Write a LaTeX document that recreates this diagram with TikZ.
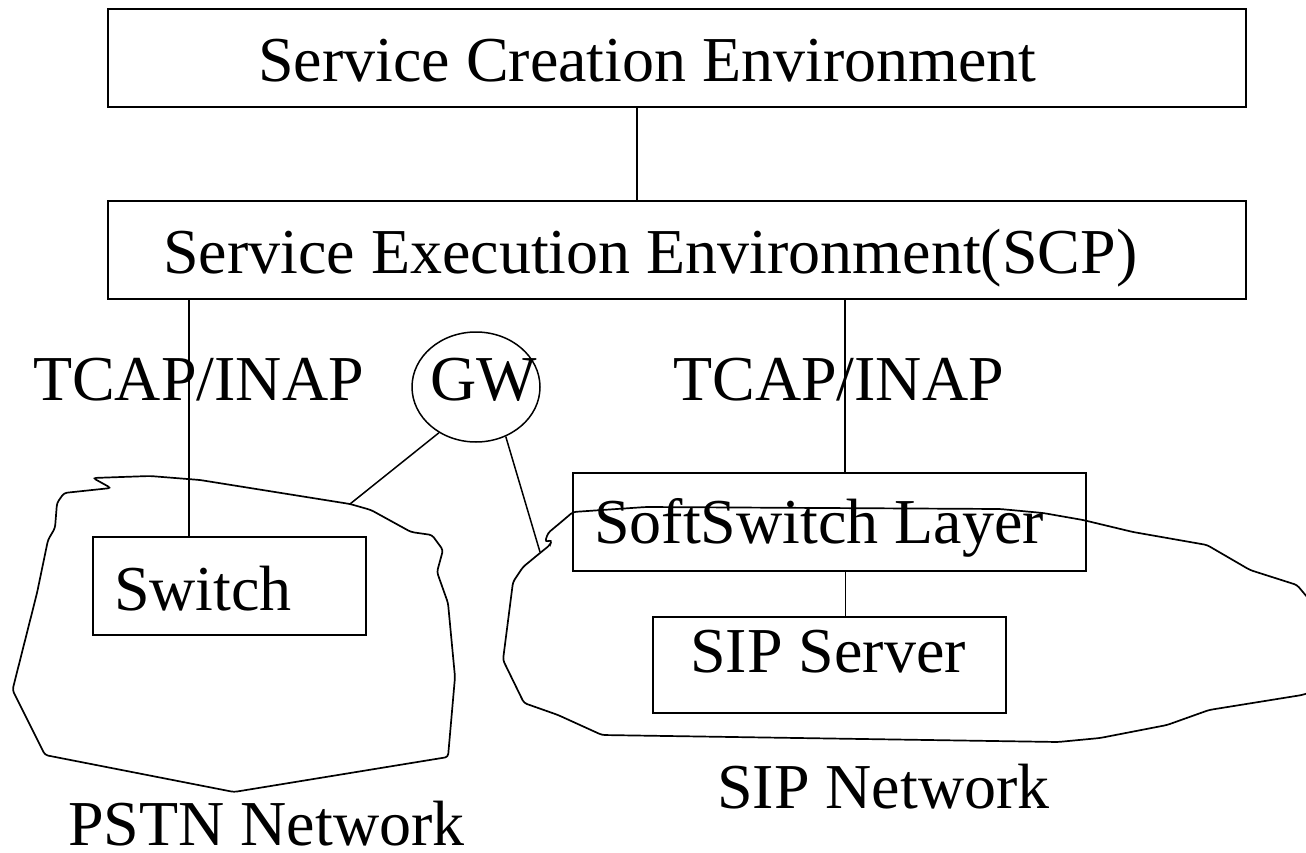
\documentclass[tikz,border=0pt]{standalone}
\usepackage{fontspec}
\setmainfont{Liberation Serif}
\usetikzlibrary{shapes.geometric}
\begin{document}
\begin{tikzpicture}[x=1pt,y=-1pt,
  boxnode/.style={draw, line width=1.7pt, rectangle, inner sep=0pt},
  lbl/.style={anchor=base west, inner sep=0pt, font=\fontsize{64}{70}\selectfont},
  link/.style={line width=1.5pt},
  cloudline/.style={line width=1.7pt, rounded corners=3pt}]
\useasboundingbox[fill=white] (0,0) rectangle (1306,853);

% clouds
\draw[cloudline] (150,476) -- (93,478) -- (111,488) -- (64,493) -- (57,503) -- (55,528)
  -- (48,540) -- (37,593) -- (12.5,690) -- (45,755) -- (234,792) -- (448,757)
  -- (455,677) -- (448,603) -- (437,572) -- (443,550) -- (432,535) -- (411,532)
  -- (371,510) -- (350,504) -- (200,480) -- cycle;
\coordinate (pstnhit) at (350,504);

\draw[cloudline] (573,512) -- (646,507) -- (1000,509) -- (1043,513) -- (1083,520)
  -- (1133,532) -- (1207,545) -- (1250,570) -- (1297,585) -- (1318,610)
  -- (1318,690) -- (1302,695) -- (1209,710) -- (1167,725) -- (1100,738)
  -- (1058,742) -- (602,735) -- (558,715) -- (524,703) -- (503,660) -- (513,582)
  -- (523,567) -- (540,553) -- (550,545) -- (552,540) -- (545,542) -- (548,533)
  -- (560,523) -- cycle;
\coordinate (siphit) at (540,552);

% boxes
\node[boxnode, minimum width=1138pt, minimum height=98pt] (sce) at (677,58) {};
\node[boxnode, minimum width=1138pt, minimum height=98pt] (see) at (677,250) {};
\node[boxnode, minimum width=273pt, minimum height=98pt] (sw) at (229.5,586) {};
\node[boxnode, minimum width=513pt, minimum height=98pt] (ss) at (829.5,522) {};
\node[boxnode, minimum width=353pt, minimum height=96pt] (sip) at (829.5,665) {};
\node[draw, ellipse, line width=1.5pt, inner sep=0pt, minimum width=128pt, minimum height=110pt] (gw) at (476,387) {};

% texts
\node[lbl] (sceT) at (258,82) {Service Creation Environment};
\node[lbl] (seeT) at (163,273) {Service Execution Environment(SCP)};
\node[lbl] (tcapL) at (33,400) {TCAP/INAP};
\node[lbl] (gwT) at (430,400) {GW};
\node[lbl] (tcapR) at (673,400) {TCAP/INAP};
\node[lbl] (swT) at (114,610) {Switch};
\node[lbl] (ssT) at (594,543) {SoftSwitch Layer};
\node[lbl] (sipT) at (690,672) {SIP Server};
\node[lbl] (sipN) at (717,808) {SIP Network};
\node[lbl] (pstnN) at (68,845) {PSTN Network};

% connectors
\coordinate (c1) at ([xshift=-40pt]sce.south);
\draw[link] (c1) -- (c1 |- see.north);
\coordinate (c2) at ([xshift=-40.5pt]sw.north);
\draw[link] (c2 |- see.south) -- (c2);
\coordinate (c3) at ([xshift=15.5pt]ss.north);
\draw[link] (c3 |- see.south) -- (c3);
\coordinate (c4) at ([xshift=16pt]sip.north);
\draw[link] (c4 |- ss.south) -- (c4);
\draw[link] (gw.231) -- (pstnhit);
\draw[link] (gw.301) -- (siphit);
\end{tikzpicture}
\end{document}
